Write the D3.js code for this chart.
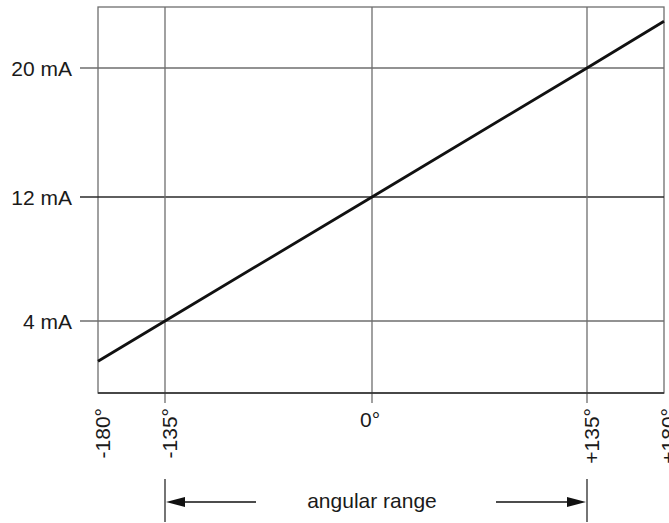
<!DOCTYPE html>
<html>
<head>
<meta charset="utf-8">
<script src="https://cdn.jsdelivr.net/npm/d3@7"></script>
<style>
  body { margin: 0; background: #fff; }
  text { font-family: "Liberation Sans", Arial, sans-serif; fill: #1a1a1a; }
</style>
</head>
<body>
<svg id="chart" width="669" height="523"></svg>
<script>
// values
const angles = [-180, -135, 0, 135, 180];
const current = [1.4, 4, 12, 20, 22.9];
const xTicks = [-180, -135, 0, 135, 180];
const xLabels = ["-180°", "-135°", "0°", "+135°", "+180°"];
const yTicks = [4, 12, 20];
const yLabels = ["4 mA", "12 mA", "20 mA"];
const rangeEnds = [-135, 135];
const rangeLabel = "angular range";

const svg = d3.select("#chart");
const plotTop = 7, plotBottom = 393;
const fs = 21;

// the drawing isn't quite linear, so the scales are piecewise
const x = d3.scaleLinear().domain([-180, -135, 0, 135, 180]).range([98, 165, 372, 587, 664]);
const y = d3.scaleLinear().domain([4, 12, 20]).range([321, 197, 68]);

const grey = "#6e6e6e", dark = "#2a2a2a";

// frame
svg.append("rect")
    .attr("x", x(-180)).attr("y", plotTop)
    .attr("width", x(180) - x(-180)).attr("height", plotBottom - plotTop)
    .attr("fill", "none").attr("stroke", grey).attr("stroke-width", 1.3);

// horizontal grid + ticks to the left
svg.selectAll(".hgrid").data(yTicks).join("line")
    .attr("x1", 80).attr("x2", x(180))
    .attr("y1", d => y(d)).attr("y2", d => y(d))
    .attr("stroke", d => d === 12 ? dark : grey).attr("stroke-width", 1.3);

svg.selectAll(".ylab").data(yTicks).join("text")
    .attr("x", 72).attr("y", d => y(d)).attr("dy", "0.36em")
    .attr("text-anchor", "end").attr("font-size", fs)
    .text((d, i) => yLabels[i]);

// vertical grid, inner ones stick out below
svg.selectAll(".vgrid").data(xTicks.slice(1, 4)).join("line")
    .attr("x1", d => x(d)).attr("x2", d => x(d))
    .attr("y1", plotTop).attr("y2", plotBottom + 10)
    .attr("stroke", grey).attr("stroke-width", 1.3);

// bottom edge is darker
svg.append("line")
    .attr("x1", x(-180)).attr("x2", x(180))
    .attr("y1", plotBottom).attr("y2", plotBottom)
    .attr("stroke", dark).attr("stroke-width", 1.3);

// x labels
xTicks.forEach((d, i) => {
    if (d === 0) {
        svg.append("text")
            .attr("x", x(d) - 2).attr("y", 427)
            .attr("text-anchor", "middle").attr("font-size", fs)
            .text(xLabels[i]);
    } else {
        svg.append("text")
            .attr("transform", `translate(${x(d)},408) rotate(-90)`)
            .attr("dy", "0.55em")
            .attr("text-anchor", "end").attr("font-size", fs)
            .text(xLabels[i]);
    }
});

// the characteristic
const line = d3.line().x(d => x(d[0])).y(d => y(d[1]));
svg.append("path")
    .datum(angles.map((a, i) => [a, current[i]]))
    .attr("d", line)
    .attr("fill", "none").attr("stroke", "#111").attr("stroke-width", 2.8);

// angular range annotation
const arrowY = 502;
svg.selectAll(".rmark").data(rangeEnds).join("line")
    .attr("x1", d => x(d)).attr("x2", d => x(d))
    .attr("y1", 479).attr("y2", 522)
    .attr("stroke", dark).attr("stroke-width", 1.3);

svg.append("line")
    .attr("x1", x(-135) + 10).attr("x2", 256)
    .attr("y1", arrowY).attr("y2", arrowY)
    .attr("stroke", "#111").attr("stroke-width", 1.3);
svg.append("line")
    .attr("x1", 496).attr("x2", x(135) - 10)
    .attr("y1", arrowY).attr("y2", arrowY)
    .attr("stroke", "#111").attr("stroke-width", 1.3);

const xl = x(-135) + 1, xr = x(135) - 1;
svg.append("path")
    .attr("d", `M${xl},${arrowY} L${xl + 19},${arrowY - 5} L${xl + 19},${arrowY + 5} Z`)
    .attr("fill", "#111");
svg.append("path")
    .attr("d", `M${xr},${arrowY} L${xr - 19},${arrowY - 5} L${xr - 19},${arrowY + 5} Z`)
    .attr("fill", "#111");

svg.append("text")
    .attr("x", 372).attr("y", 508)
    .attr("text-anchor", "middle").attr("font-size", fs)
    .text(rangeLabel);
</script>
</body>
</html>
